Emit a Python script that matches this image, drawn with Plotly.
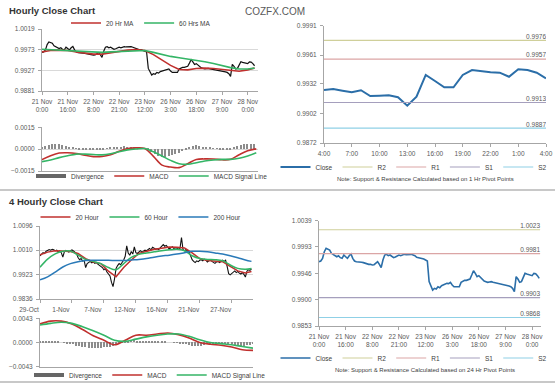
import plotly.graph_objects as go

W, H = 560, 385

# ---------------- Hourly data ----------------
hourly_tick_idx = [0, 15, 30, 45, 60, 75, 90, 105, 120]
hourly_tick_text = ["21 Nov<br>0:00", "21 Nov<br>16:00", "22 Nov<br>8:00", "22 Nov<br>21:00",
                    "23 Nov<br>12:00", "26 Nov<br>3:00", "26 Nov<br>18:00", "27 Nov<br>9:00",
                    "28 Nov<br>0:00"]
hourly_close = [
    0.99666, 0.99678, 0.99725, 0.99843, 0.99902, 0.99890, 0.99872, 0.99814, 0.99796, 0.99784,
    0.99754, 0.99772, 0.99737, 0.99725, 0.99784, 0.99754, 0.99725, 0.99772, 0.99802, 0.99725,
    0.99678, 0.99666, 0.99666, 0.99655, 0.99655, 0.99649, 0.99637, 0.99631, 0.99619, 0.99619,
    0.99607, 0.99613, 0.99643, 0.99666, 0.99619, 0.99560, 0.99696, 0.99784, 0.99796, 0.99772,
    0.99784, 0.99754, 0.99737, 0.99749, 0.99772, 0.99784, 0.99772, 0.99784, 0.99796, 0.99790,
    0.99796, 0.99796, 0.99796, 0.99784, 0.99772, 0.99743, 0.99737, 0.99725, 0.99725, 0.99713,
    0.99696, 0.99678, 0.99313, 0.99224, 0.99165, 0.99195, 0.99183, 0.99224, 0.99207, 0.99242,
    0.99254, 0.99266, 0.99283, 0.99278, 0.99301, 0.99254, 0.99224, 0.99224, 0.99219, 0.99224,
    0.99301, 0.99325, 0.99336, 0.99336, 0.99342, 0.99360, 0.99431, 0.99507, 0.99460, 0.99401,
    0.99419, 0.99384, 0.99348, 0.99325, 0.99313, 0.99301, 0.99307, 0.99313, 0.99301, 0.99295,
    0.99289, 0.99283, 0.99278, 0.99272, 0.99266, 0.99254, 0.99248, 0.99236, 0.99224, 0.99195,
    0.99136, 0.99401, 0.99360, 0.99301, 0.99313, 0.99401, 0.99460, 0.99448, 0.99442, 0.99431,
    0.99419, 0.99460, 0.99454, 0.99419, 0.99372]
hourly_ma_idx = [0, 5, 10, 15, 20, 25, 30, 35, 40, 45, 50, 55, 60, 65, 70, 75, 80, 85, 90, 95,
                 100, 105, 110, 115, 120, 124]
ma20_hr = [0.9968, 0.9971, 0.9972, 0.9971, 0.9968, 0.9965, 0.9963, 0.9963, 0.9966, 0.9970,
           0.9972, 0.9973, 0.9971, 0.9962, 0.9950, 0.9938, 0.9929, 0.9928, 0.9931, 0.9932,
           0.9931, 0.9929, 0.9926, 0.9925, 0.9928, 0.9932]
ma60_hr = [0.9974, 0.9973, 0.9972, 0.9971, 0.9969, 0.9968, 0.9967, 0.9967, 0.9968, 0.9969,
           0.9970, 0.9971, 0.9971, 0.9967, 0.9962, 0.9958, 0.9955, 0.9952, 0.9950, 0.9946,
           0.9942, 0.9937, 0.9933, 0.9930, 0.9930, 0.9932]
macd_idx_hr = [0, 5, 10, 15, 20, 25, 30, 35, 40, 45, 50, 55, 60, 65, 70, 75, 80, 85, 90, 95,
               100, 105, 110, 115, 120, 125]
macd_hr = [-0.00072, -0.00045, -0.00027, -0.00025, -0.00030, -0.00042, -0.00051, -0.00050,
           -0.00038, -0.00015, 0.00005, 0.00009, 0.00004, -0.00050, -0.00110, -0.00123,
           -0.00127, -0.00100, -0.00071, -0.00067, -0.00068, -0.00073, -0.00070, -0.00038,
           -0.00011, 0.00002]
signal_hr = [-0.00086, -0.00075, -0.00058, -0.00045, -0.00034, -0.00034, -0.00037, -0.00039,
             -0.00032, -0.00018, -0.00005, 0.00001, 0.00004, -0.00018, -0.00047, -0.00077,
             -0.00100, -0.00104, -0.00093, -0.00081, -0.00074, -0.00070, -0.00070, -0.00062,
             -0.00047, -0.00025]
div_idx_hr = list(range(0, 125, 2))
div_hr = [0.00012, 0.00020, 0.00028, 0.00033, 0.00035, 0.00032, 0.00026, 0.00020, 0.00012, 0.00006,
          0.00002, -0.00002, -0.00005, -0.00007, -0.00008, -0.00009, -0.00010, -0.00008, -0.00004, 0.00002,
          0.00006, 0.00010, 0.00013, 0.00016, 0.00017, 0.00015, 0.00012, 0.00010, 0.00008, 0.00005,
          0.00002, -0.00010, -0.00025, -0.00038, -0.00048, -0.00055, -0.00057, -0.00052, -0.00045, -0.00035,
          -0.00026, -0.00014, -0.00002, 0.00012, 0.00022, 0.00025, 0.00022, 0.00016, 0.00011, 0.00007,
          0.00004, 0.00001, -0.00002, -0.00005, -0.00006, -0.00002, 0.00008, 0.00018, 0.00026, 0.00032,
          0.00035, 0.00034, 0.00030]
levels_24h = [1.0023, 0.9981, 0.9903, 0.9868]

# ---------------- Last 24 hours (1 Hr pivot) ----------------
day_tick_idx = [0, 3, 6, 9, 12, 15, 18, 21, 24]
day_tick_text = ["4:00", "7:00", "10:00", "13:00", "16:00", "19:00", "22:00", "1:00", "4:00"]
day_close = [0.99257, 0.99267, 0.99250, 0.99234, 0.99254, 0.99196, 0.99199, 0.99203, 0.99183,
             0.99098, 0.99189, 0.99409, 0.99348, 0.99284, 0.99284, 0.99409, 0.99459, 0.99444,
             0.99436, 0.99432, 0.99391, 0.99466, 0.99459, 0.99432, 0.99375]
levels_1h = [0.9976, 0.9957, 0.9913, 0.9887]
level_names = ["R2", "R1", "S1", "S2"]

# ---------------- 4-hourly data ----------------
h4_tick_idx = [0, 21, 42, 63, 84, 105, 126]
h4_tick_text = ["29-Oct", "1-Nov", "7-Nov", "12-Nov", "16-Nov", "21-Nov", "27-Nov"]
h4_close = [
    0.9990, 0.9996, 1.0001, 0.9998, 1.0006, 1.0009, 1.0012, 1.0010, 1.0013, 1.0011,
    1.0008, 1.0010, 1.0004, 1.0007, 1.0001, 0.9985, 1.0004, 1.0009, 1.0006, 1.0003,
    1.0008, 1.0011, 1.0007, 1.0004, 0.9998, 0.9984, 0.9976, 0.9980, 0.9971, 0.9974,
    0.9948, 0.9962, 0.9966, 0.9970, 0.9965, 0.9968, 0.9963, 0.9966, 0.9960, 0.9957,
    0.9952, 0.9948, 0.9940, 0.9944, 0.9932, 0.9925, 0.9918, 0.9895, 0.9880, 0.9908,
    0.9945, 0.9955, 0.9962, 0.9958, 0.9966, 0.9975, 0.9988, 1.0025, 1.0000, 0.9992,
    1.0005, 0.9996, 1.0022, 1.0001, 0.9998, 1.0004, 1.0008, 1.0003, 1.0006, 1.0010,
    1.0008, 1.0013, 1.0016, 1.0011, 1.0020, 1.0017, 1.0013, 1.0015, 1.0012, 1.0018,
    1.0026, 1.0030, 1.0024, 1.0027, 1.0020, 1.0014, 1.0018, 1.0022, 1.0016, 1.0019,
    1.0017, 1.0013, 1.0016, 1.0055, 1.0012, 1.0008, 1.0012, 1.0005, 1.0002, 0.9990,
    0.9976, 0.9970, 0.9966, 0.9972, 0.9969, 0.9974, 0.9976, 0.9972, 0.9978, 0.9974,
    0.9968, 0.9972, 0.9975, 0.9970, 0.9966, 0.9963, 0.9968, 0.9970, 0.9966, 0.9972,
    0.9974, 0.9970, 0.9974, 0.9952, 0.9926, 0.9922, 0.9928, 0.9932, 0.9936, 0.9930,
    0.9934, 0.9928, 0.9925, 0.9930, 0.9924, 0.9914, 0.9935, 0.9940, 0.9938, 0.9943]
h4_ma_idx = [0, 5, 10, 15, 20, 25, 30, 35, 40, 45, 50, 55, 60, 65, 70, 75, 80, 85, 90, 95,
             100, 105, 110, 115, 120, 125, 130, 135, 139]
ma20_h4 = [0.9993, 1.0003, 1.0008, 1.0006, 1.0005, 0.9998, 0.9980, 0.9968, 0.9962, 0.9935,
           0.9915, 0.9948, 0.9975, 0.9998, 1.0006, 1.0013, 1.0017, 1.0021, 1.0020, 1.0018,
           1.0000, 0.9980, 0.9973, 0.9970, 0.9969, 0.9952, 0.9936, 0.9929, 0.9934]
ma60_h4 = [0.9949, 0.9978, 0.9997, 1.0006, 1.0007, 0.9992, 0.9977, 0.9970, 0.9962, 0.9948,
           0.9940, 0.9962, 0.9984, 0.9995, 1.0000, 1.0004, 1.0008, 1.0011, 1.0013, 1.0008,
           0.9990, 0.9980, 0.9977, 0.9976, 0.9972, 0.9957, 0.9945, 0.9942, 0.9945]
ma200_h4 = [0.9904, 0.9915, 0.9932, 0.9950, 0.9962, 0.9969, 0.9973, 0.9974, 0.9974, 0.9974,
            0.9973, 0.9973, 0.9975, 0.9977, 0.9980, 0.9985, 0.9989, 0.9992, 0.9996, 1.0001,
            1.0006, 1.0006, 1.0004, 1.0000, 0.9996, 0.9990, 0.9983, 0.9975, 0.9970]
macd_idx_h4 = [0, 7, 14, 21, 28, 35, 42, 49, 56, 63, 70, 77, 84, 91, 98, 105, 112, 119, 126, 133, 140]
macd_h4 = [0.0033, 0.0038, 0.0038, 0.0033, 0.0023, 0.0012, 0.0004, -0.0004, 0.0004, 0.0013,
           0.0013, 0.0015, 0.0017, 0.0014, 0.0008, 0.0000, -0.0003, -0.0005, -0.0008, -0.0013, -0.0014]
signal_h4 = [0.0031, 0.0034, 0.0036, 0.0034, 0.0028, 0.0021, 0.0013, 0.0004, 0.0002, 0.0006,
             0.0010, 0.0013, 0.0015, 0.0015, 0.0011, 0.0005, 0.0000, -0.0002, -0.0004, -0.0007, -0.0010]
div_idx_h4 = list(range(0, 141, 2))
div_h4 = [0.0002, 0.0003, 0.0003, 0.0003, 0.0002, 0.0002, 0.0001,
          0.0000, -0.0001, -0.0002, -0.0003,
          -0.0004, -0.0006, -0.0007, -0.0008, -0.0009, -0.0010, -0.0010, -0.0011, -0.0010, -0.0010,
          -0.0009, -0.0009, -0.0008, -0.0007,
          -0.0005, -0.0002, 0.0001, 0.0002,
          0.0003, 0.0004, 0.0004, 0.0003, 0.0003, 0.0002, 0.0002, 0.0002, 0.0001, 0.0001,
          0.0001, 0.0001, 0.0001, 0.0000, 0.0000, -0.0001, -0.0001, -0.0002, -0.0003, -0.0004,
          -0.0005, -0.0006, -0.0007, -0.0007, -0.0006, -0.0005, -0.0004, -0.0003, -0.0003, -0.0002,
          -0.0002, -0.0003,
          -0.0003, -0.0004, -0.0004, -0.0005, -0.0005, -0.0006, -0.0006, -0.0005, -0.0005, -0.0004]

# ---------------- styling ----------------
FONT = "Arial, Liberation Sans, sans-serif"
RED = "#c0302e"
GREEN = "#34b566"
BLUE200 = "#2a7ab8"
CLOSE_BLUE = "#2b6ea8"
DIV_GRAY = "#8c8c8c"
LEVEL_COLORS = ["#cfcf9a", "#dba5a5", "#a59fbd", "#8fd0e6"]
AXIS = "#a6a6a6"
GRID = "#d9d9d9"
TICKFONT = dict(size=6.5, color="#595959", family=FONT)


def px_x(a, b):
    return [a / W, b / W]


def px_y(top, bottom):
    return [1 - bottom / H, 1 - top / H]


hr_x = list(range(len(hourly_close)))
day_x = list(range(len(day_close)))
h4_x = list(range(len(h4_close)))

fig = go.Figure()

# ---- Top-left: hourly close with MAs ----
fig.add_trace(go.Scatter(x=hr_x, y=hourly_close, mode="lines", line=dict(color="#111111", width=1.2),
                         showlegend=False, xaxis="x", yaxis="y"))
fig.add_trace(go.Scatter(x=hourly_ma_idx, y=ma20_hr, mode="lines", name="20 Hr MA",
                         line=dict(color=RED, width=1.6), xaxis="x", yaxis="y", legend="legend"))
fig.add_trace(go.Scatter(x=hourly_ma_idx, y=ma60_hr, mode="lines", name="60 Hrs MA",
                         line=dict(color=GREEN, width=1.6), xaxis="x", yaxis="y", legend="legend"))


def macd_panel(xa, ya, lg, div_x, div_y, m_x, m_y, s_y):
    fig.add_trace(go.Bar(x=div_x, y=div_y, name="Divergence", marker=dict(color=DIV_GRAY, line_width=0),
                         width=0.9, xaxis=xa, yaxis=ya, showlegend=False))
    # legend entry for the divergence bars (drawn as a thick gray swatch like the original)
    fig.add_trace(go.Scatter(x=[None], y=[None], mode="lines", name="Divergence",
                             line=dict(color="#666666", width=4), xaxis=xa, yaxis=ya, legend=lg))
    fig.add_trace(go.Scatter(x=m_x, y=m_y, mode="lines", name="MACD",
                             line=dict(color=RED, width=1.6, shape="spline"), xaxis=xa, yaxis=ya, legend=lg))
    fig.add_trace(go.Scatter(x=m_x, y=s_y, mode="lines", name="MACD Signal Line",
                             line=dict(color=GREEN, width=1.6, shape="spline"), xaxis=xa, yaxis=ya, legend=lg))


# ---- Top-left MACD ----
macd_panel("x2", "y2", "legend2", div_idx_hr, div_hr, macd_idx_hr, macd_hr, signal_hr)

# ---- Top-right: last 24h with 1h pivots ----
fig.add_trace(go.Scatter(x=day_x, y=day_close, mode="lines", name="Close",
                         line=dict(color=CLOSE_BLUE, width=2), xaxis="x3", yaxis="y3", legend="legend3"))
for v, nm, col in zip(levels_1h, level_names, LEVEL_COLORS):
    fig.add_trace(go.Scatter(x=[day_x[0], day_x[-1]], y=[v, v], mode="lines+text", name=nm,
                             text=["", f"{v:.4f}"], textposition="top left",
                             textfont=dict(size=6.5, color="#595959", family=FONT),
                             line=dict(color=col, width=1.2), xaxis="x3", yaxis="y3", legend="legend3"))

# ---- Bottom-left: 4-hourly close with MAs ----
fig.add_trace(go.Scatter(x=h4_x, y=h4_close, mode="lines", line=dict(color="#111111", width=1.1),
                         showlegend=False, xaxis="x4", yaxis="y4"))
fig.add_trace(go.Scatter(x=h4_ma_idx, y=ma20_h4, mode="lines", name="20 Hour",
                         line=dict(color=RED, width=1.5), xaxis="x4", yaxis="y4", legend="legend4"))
fig.add_trace(go.Scatter(x=h4_ma_idx, y=ma60_h4, mode="lines", name="60 Hour",
                         line=dict(color=GREEN, width=1.5, shape="spline"), xaxis="x4", yaxis="y4", legend="legend4"))
fig.add_trace(go.Scatter(x=h4_ma_idx, y=ma200_h4, mode="lines", name="200 Hour",
                         line=dict(color=BLUE200, width=1.5, shape="spline"), xaxis="x4", yaxis="y4", legend="legend4"))

# ---- Bottom-left MACD ----
macd_panel("x5", "y5", "legend5", div_idx_h4, div_h4, macd_idx_h4, macd_h4, signal_h4)

# ---- Bottom-right: hourly close with 24h pivots ----
fig.add_trace(go.Scatter(x=hr_x, y=hourly_close, mode="lines", name="Close",
                         line=dict(color=CLOSE_BLUE, width=1.6), xaxis="x6", yaxis="y6", legend="legend6"))
for v, nm, col in zip(levels_24h, level_names, LEVEL_COLORS):
    fig.add_trace(go.Scatter(x=[0, 124.5], y=[v, v], mode="lines+text", name=nm,
                             text=["", f"{v:.4f}"], textposition="top left",
                             textfont=dict(size=6.5, color="#595959", family=FONT),
                             line=dict(color=col, width=1.2), xaxis="x6", yaxis="y6", legend="legend6"))


def xax(domain, rng, anchor, tickvals=None, ticktext=None, labels=True, shift=0):
    d = dict(domain=domain, range=rng, anchor=anchor, showline=True, linecolor=AXIS, linewidth=1,
             showgrid=False, zeroline=False, tickfont=TICKFONT, fixedrange=True, automargin=False)
    if labels:
        d.update(tickmode="array", tickvals=tickvals, ticktext=ticktext, ticks="outside",
                 ticklen=3, tickcolor=AXIS, ticklabelshift=shift, ticklabelstandoff=1)
    else:
        d.update(showticklabels=False, ticks="")
    return d


def yax(domain, rng, anchor, tickvals, grid, fmt=".4f"):
    return dict(domain=domain, range=rng, anchor=anchor, showline=True, linecolor=AXIS, linewidth=1,
                ticks="outside", ticklen=3, tickcolor=AXIS, tickmode="array", tickvals=tickvals,
                tickformat=fmt, showgrid=grid, gridcolor=GRID, gridwidth=1, zeroline=False,
                tickfont=TICKFONT, fixedrange=True, ticklabelstandoff=2, automargin=False)


def legend_at(xc, yc):
    return dict(orientation="h", x=xc / W, y=1 - yc / H, xanchor="center", yanchor="middle",
                font=dict(size=6.5, color="#404040", family=FONT), bgcolor="rgba(0,0,0,0)",
                itemwidth=30, tracegroupgap=0, itemclick=False)


fig.update_layout(
    width=W, height=H, margin=dict(l=0, r=0, t=0, b=0, autoexpand=False),
    paper_bgcolor="white", plot_bgcolor="white",
    font=dict(family=FONT, color="#404040"),
    bargap=0,
    xaxis=xax(px_x(42, 258), [0, 126], "y", hourly_tick_idx, hourly_tick_text),
    yaxis=yax(px_y(29, 91), [0.9881, 1.0019], "x", [0.9881, 0.9927, 0.9973, 1.0019], True),
    xaxis2=xax(px_x(42, 258), [0, 126], "y2", labels=False),
    yaxis2=yax(px_y(127.3, 171), [-0.0015, 0.0015], "x2", [-0.0015, 0.0, 0.0015], True),
    xaxis3=xax(px_x(324, 546), [0, 24], "y3", day_tick_idx, day_tick_text),
    yaxis3=yax(px_y(25.5, 143), [0.9872, 0.9991], "x3", [0.9872, 0.9902, 0.9932, 0.9961, 0.9991], False),
    xaxis4=xax(px_x(40, 253), [0, 140], "y4", h4_tick_idx, h4_tick_text, shift=-11),
    yaxis4=yax(px_y(226, 299), [0.9836, 1.0096], "x4", [0.9836, 0.9923, 1.0010, 1.0096], True),
    xaxis5=xax(px_x(40, 253), [0, 140], "y5", labels=False),
    yaxis5=yax(px_y(318.3, 366.7), [-0.0043, 0.0043], "x5", [-0.0043, 0.0, 0.0043], True),
    xaxis6=xax(px_x(319, 541), [0, 125], "y6", hourly_tick_idx, hourly_tick_text),
    yaxis6=yax(px_y(220.7, 326), [0.9853, 1.0039], "x6", [0.9853, 0.9900, 0.9946, 0.9993, 1.0039], False),
    legend=legend_at(141, 23),
    legend2=legend_at(152, 176),
    legend3=legend_at(414, 167),
    legend4=legend_at(141, 217),
    legend5=legend_at(150, 375),
    legend6=legend_at(414, 358),
    showlegend=True,
)

annotations = [
    dict(text="<b>Hourly Close Chart</b>", x=7 / W, y=1 - 10 / H, xanchor="left", yanchor="middle",
         font=dict(size=9.5, color="#333333", family=FONT)),
    dict(text="COZFX.COM", x=243 / W, y=1 - 11 / H, xanchor="left", yanchor="middle",
         font=dict(size=10, color="#595959", family=FONT)),
    dict(text="Note: Support & Resistance Calculated based on 1 Hr Pivot Points", x=425 / W, y=1 - 179 / H,
         xanchor="center", yanchor="middle", font=dict(size=6, color="#404040", family=FONT)),
    dict(text="<b>4 Hourly Close Chart</b>", x=7 / W, y=1 - 202 / H, xanchor="left", yanchor="middle",
         font=dict(size=9.5, color="#333333", family=FONT)),
    dict(text="Note: Support & Resistance Calculated based on 24 Hr Pivot Points", x=425 / W, y=1 - 370 / H,
         xanchor="center", yanchor="middle", font=dict(size=6, color="#404040", family=FONT)),
]
for a in annotations:
    a.update(xref="paper", yref="paper", showarrow=False)
fig.update_layout(annotations=annotations)

fig.update_layout(shapes=[
    dict(type="line", xref="paper", yref="paper", x0=0, x1=555 / W, y0=1 - 190 / H, y1=1 - 190 / H,
         line=dict(color="#c8c8c8", width=2)),
    dict(type="line", xref="paper", yref="paper", x0=0, x1=555 / W, y0=1 - 382 / H, y1=1 - 382 / H,
         line=dict(color="#c8c8c8", width=2)),
])

fig.write_html("out.html", config={"displayModeBar": False, "responsive": False},
               post_script="document.body.style.margin='0';document.body.style.overflow='hidden';")
